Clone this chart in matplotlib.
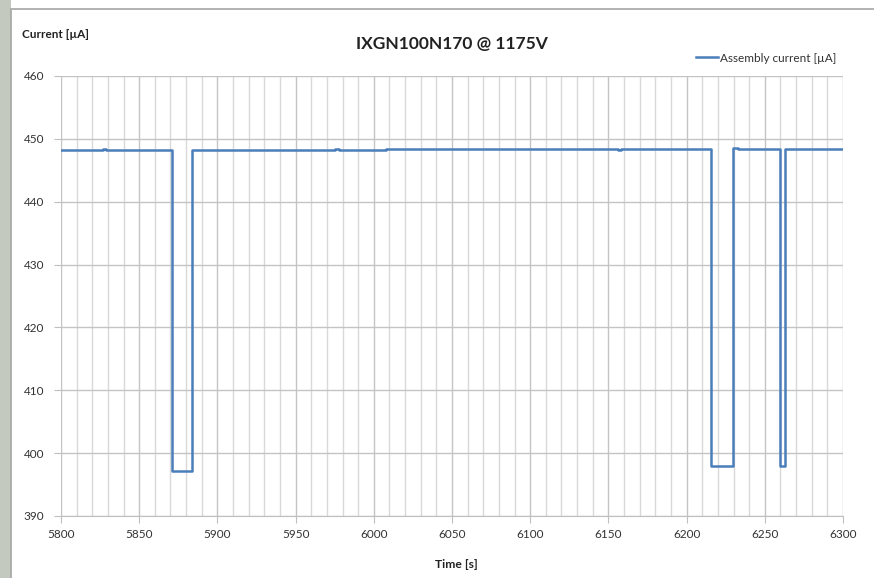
import matplotlib
matplotlib.use("Agg")
import matplotlib.pyplot as plt
from matplotlib.patches import Rectangle
from matplotlib.ticker import MultipleLocator

# Data (step changes of assembly current)
times = [5800, 5827, 5829, 5871, 5884, 5935, 5975, 5978, 6008, 6156, 6158,
         6215.5, 6229.5, 6233, 6259.5, 6263, 6300]
current = [448.2, 448.4, 448.2, 397.2, 448.2, 448.3, 448.4, 448.3, 448.4, 448.3, 448.4,
           397.9, 448.5, 448.4, 397.9, 448.4, 448.4]

title = "IXGN100N170 @ 1175V"
series_label = "Assembly current [µA]"
xlabel = "Time [s]"
ylabel = "Current [µA]"

plt.rcParams['font.family'] = ['Lato', 'DejaVu Sans']

fig = plt.figure(figsize=(8.74, 5.78), dpi=100)
fig.patch.set_facecolor('white')

# Frame of the chart area (screenshot look)
fig.patches.append(Rectangle((0, 0), 11/874, 1, transform=fig.transFigure,
                             facecolor='#c4c9c0', edgecolor='none', zorder=0))
fig.patches.append(Rectangle((11/874, -0.01), 1.0, 1 - 9/578 + 0.01, transform=fig.transFigure,
                             facecolor='white', edgecolor='#a6a6a6', linewidth=1.2, zorder=1))

ax = fig.add_axes([61/874, 1 - 516/578, (843 - 61)/874, (516 - 76)/578])
ax.set_zorder(2)
ax.patch.set_alpha(0)

ax.plot(times, current, drawstyle='steps-post', color='#4a7ebb', linewidth=1.8,
        label=series_label, zorder=3)

ax.set_xlim(5800, 6300)
ax.set_ylim(390, 460)
ax.xaxis.set_major_locator(MultipleLocator(50))
ax.xaxis.set_minor_locator(MultipleLocator(10))
ax.yaxis.set_major_locator(MultipleLocator(10))

ax.grid(which='minor', axis='x', color='#d9d9d9', linewidth=1.0)
ax.grid(which='major', axis='x', color='#c4c4c4', linewidth=1.0)
ax.grid(which='major', axis='y', color='#c4c4c4', linewidth=1.0)
ax.set_axisbelow(True)

for s in ['top', 'right']:
    ax.spines[s].set_visible(False)
ax.spines['left'].set_visible(False)
ax.spines['bottom'].set_color('#bfbfbf')

ax.tick_params(axis='y', which='major', length=5, color='#bfbfbf', labelsize=8.5, pad=7,
               labelcolor='#333333')
ax.tick_params(axis='x', which='major', length=5, color='#bfbfbf', labelsize=8.5, pad=4,
               labelcolor='#333333')
ax.tick_params(axis='x', which='minor', length=0)

fig.text(452/874, 1 - 44/578, title, ha='center', va='center', fontsize=12.5,
         fontweight='bold', color='#222222')
fig.text(22/874, 1 - 35/578, ylabel, ha='left', va='center', fontsize=8.5,
         fontweight='bold', color='#222222')
fig.text(456/874, 1 - 565/578, xlabel, ha='center', va='center', fontsize=8.7,
         fontweight='bold', color='#222222')

ax.legend(loc='upper right', bbox_to_anchor=(847/874, 1 - 42/578),
          bbox_transform=fig.transFigure, frameon=False, fontsize=8.5,
          handlelength=1.9, handletextpad=0.15, labelcolor='#333333')

fig.savefig('out.png', dpi=100, facecolor='white')
